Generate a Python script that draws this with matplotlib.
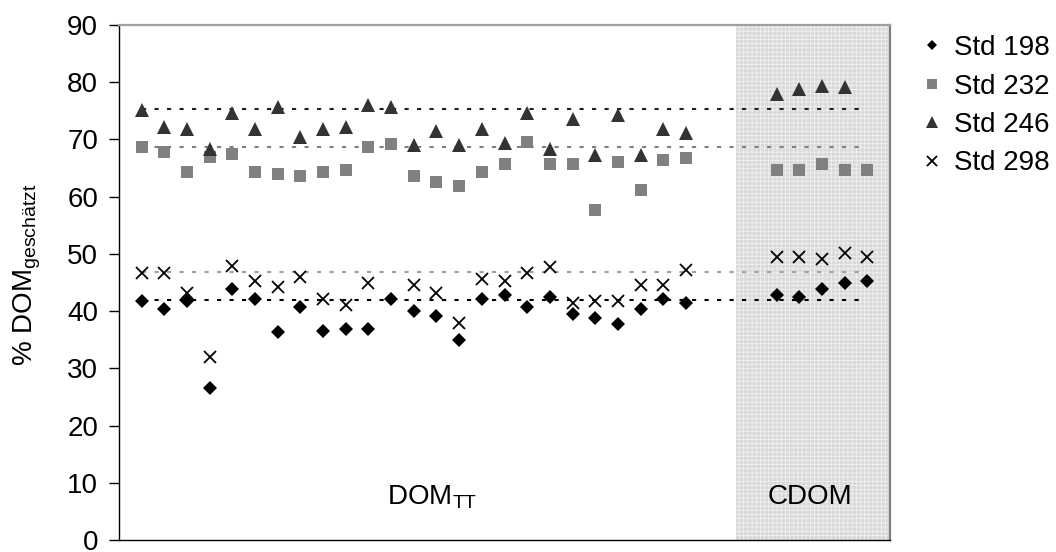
import numpy as np
import matplotlib
matplotlib.use("Agg")
import matplotlib.pyplot as plt
from matplotlib.lines import Line2D

plt.rcParams['font.family'] = ['Liberation Sans', 'DejaVu Sans']
plt.rcParams['mathtext.fontset'] = 'custom'
plt.rcParams['mathtext.rm'] = 'Liberation Sans'
plt.rcParams['hatch.linewidth'] = 0.5

nan = np.nan

# Probenpositionen
x_dom = np.arange(1, 26)
x_cdom = np.arange(29, 34)

# % DOM geschaetzt je Standard
std198_dom = [41.8, 40.3, 41.8, 26.5, 43.9, 42.1, 36.3, 40.8, 36.5, 36.9, 36.9, 42.1, 40.0,
              39.1, 34.9, 42.1, 42.8, 40.8, 42.5, 39.5, 38.8, 37.7, 40.3, 42.1, 41.4]
std198_cdom = [42.8, 42.4, 43.9, 44.9, 45.3]

std232_dom = [68.6, 67.8, 64.3, 66.9, 67.5, 64.3, 64.0, 63.6, 64.3, 64.6, 68.6, 69.2, 63.6,
              62.5, 61.9, 64.3, 65.7, 69.5, 65.7, 65.7, 57.7, 66.0, 61.2, 66.4, 66.8]
std232_cdom = [64.7, 64.7, 65.7, 64.7, 64.7]

std246_dom = [75.2, 72.1, 71.8, 68.3, 74.6, 71.8, 75.7, 70.4, 71.8, 72.2, 76.0, 75.7, 69.0,
              71.4, 69.0, 71.8, 69.4, 74.6, 68.3, 73.6, 67.3, 74.2, 67.3, 71.8, 71.1]
std246_cdom = [78.0, 78.8, 79.4, 79.2, nan]

std298_dom = [46.7, 46.7, 43.1, 31.9, 47.9, 45.3, 44.2, 46.0, 42.1, 41.0, 44.9, nan, 44.6,
              43.1, 37.9, 45.6, 45.3, 46.7, 47.7, 41.5, 41.8, 41.8, 44.6, 44.6, 47.1]
std298_cdom = [49.4, 49.4, 49.1, 50.1, 49.4]

# Mittelwerte (gestrichelte Linien)
mean_246 = 75.4
mean_232 = 68.6
mean_298 = 46.8
mean_198 = 42.0

labels = ['Std 198', 'Std 232', 'Std 246', 'Std 298']

fs = 20

fig = plt.figure(figsize=(10.56, 5.52), dpi=100)
ax = fig.add_axes([119 / 1056, 1 - 540 / 552, (890 - 119) / 1056, (540 - 25) / 552])

# CDOM Bereich schattiert
ax.axvspan(27.2, 34, facecolor='#d9d9d9', edgecolor='#f4f4f4', hatch='++++', linewidth=0, zorder=0)

x0, x1 = x_dom[0], x_cdom[-1]
ax.plot([x0, x1], [mean_246, mean_246], color='#222222', lw=1.5, dashes=(2, 4), zorder=1)
ax.plot([x0, x1], [mean_232, mean_232], color='#808080', lw=1.5, dashes=(2, 4), zorder=1)
ax.plot([x0, x1], [mean_298, mean_298], color='#a0a0a0', lw=1.5, dashes=(2, 4), zorder=1)
ax.plot([x0, x1], [mean_198, mean_198], color='black', lw=1.5, dashes=(2, 4), zorder=1)

styles = [
    dict(marker='D', ms=7, color='black', mew=0),
    dict(marker='s', ms=8.5, color='#808080', mew=0),
    dict(marker='^', ms=10, color='#333333', mew=0),
    dict(marker='x', ms=8.5, color='black', mew=1.3),
]
series = [(std198_dom, std198_cdom), (std232_dom, std232_cdom),
          (std246_dom, std246_cdom), (std298_dom, std298_cdom)]

for (dom, cdom), st in zip(series, styles):
    ax.plot(x_dom, dom, ls='none', zorder=3, **st)
    ax.plot(x_cdom, cdom, ls='none', zorder=3, **st)

ax.set_xlim(0, 34)
ax.set_ylim(0, 90)
ax.set_yticks(np.arange(0, 91, 10))
ax.set_xticks([])
ax.tick_params(axis='y', direction='out', length=7, width=1, pad=8, labelsize=fs)

ax.spines['left'].set_color('black')
ax.spines['bottom'].set_color('black')
ax.spines['top'].set_color('#a0a0a0')
ax.spines['right'].set_color('#808080')
for s in ['top', 'right']:
    ax.spines[s].set_linewidth(1.6)
ax.spines['left'].set_linewidth(1.0)
ax.spines['bottom'].set_linewidth(1.0)

ax.text(13.8, 7.5, r'DOM$_{\mathregular{TT}}$', fontsize=fs, ha='center', va='center')
ax.text(30.45, 7.5, 'CDOM', fontsize=fs, ha='center', va='center')

fig.text(27 / 1056, 1 - 275 / 552, r'% DOM$_{\mathregular{geschätzt}}$', fontsize=fs,
         rotation=90, ha='center', va='center')

handles = [Line2D([], [], ls='none', **st) for st in styles]
ax.legend(handles, labels, loc='upper left', bbox_to_anchor=(921 / 1056, 1 - 35 / 552),
          bbox_transform=fig.transFigure, frameon=False, fontsize=fs, markerscale=0.8,
          handlelength=0.8, handletextpad=0.4, labelspacing=0.45, borderpad=0,
          borderaxespad=0)

fig.savefig('out.png', dpi=100)
